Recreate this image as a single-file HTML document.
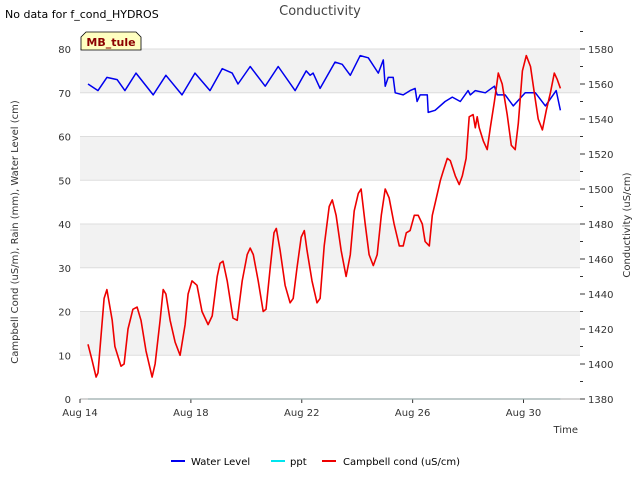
<!DOCTYPE html>
<html><head><meta charset="utf-8"><style>
body{margin:0;background:#fff;font-family:"Liberation Sans",sans-serif}
svg text{font-family:"DejaVu Sans","Liberation Sans",sans-serif}
</style></head><body>
<svg id="c" width="640" height="480" xmlns="http://www.w3.org/2000/svg">
<text x="5" y="18" font-size="11" fill="#000">No data for f_cond_HYDROS</text>
<text x="320" y="15" font-size="13" fill="#444" text-anchor="middle">Conductivity</text>
<g id="plot"></g>
<g>
<path d="M81,50 L81,37 L86,32 L136,32 L141,37 L141,50 Z" fill="#ffffc0" stroke="#000" stroke-width="0.8"/>
<text x="111" y="46" font-size="11" font-weight="bold" fill="#8b0000" text-anchor="middle">MB_tule</text>
</g>
<text x="18" y="232" font-size="10" fill="#333" text-anchor="middle" transform="rotate(-90 18 232)">Campbell Cond (uS/m), Rain (mm), Water Level (cm)</text>
<text x="630" y="225" font-size="10" fill="#333" text-anchor="middle" transform="rotate(-90 630 225)">Conductivity (uS/cm)</text>
<text x="578" y="433" font-size="10" fill="#333" text-anchor="end">Time</text>
<g font-size="10" fill="#000">
<g><line x1="171" y1="461" x2="185" y2="461" stroke="#0000ee" stroke-width="2"/><text x="191" y="465">Water Level</text></g>
<g><line x1="271" y1="461" x2="285" y2="461" stroke="#00e5ee" stroke-width="2"/><text x="290" y="465">ppt</text></g>
<g><line x1="322" y1="461" x2="336" y2="461" stroke="#ee0000" stroke-width="2"/><text x="343" y="465">Campbell cond (uS/cm)</text></g>
</g>
</svg>
<script>
const xTickLabels=["Aug 14","Aug 18","Aug 22","Aug 26","Aug 30"];
const xTickDays=[0,4,8,12,16];
const yLeftTicks=[0,10,20,30,40,50,60,70,80];
const yRightTicks=[1380,1400,1420,1440,1460,1480,1500,1520,1540,1560,1580];
const waterDays=[0.29,0.65,0.97,1.34,1.62,2.02,2.64,3.1,3.68,4.15,4.69,5.13,5.49,5.7,6.14,6.68,7.15,7.76,8.16,8.3,8.41,8.66,9.2,9.46,9.75,10.11,10.4,10.76,10.94,11.01,11.12,11.3,11.37,11.66,11.91,12.09,12.16,12.27,12.53,12.56,12.81,13.17,13.43,13.72,14.0,14.08,14.26,14.62,14.95,15.05,15.34,15.63,16.06,16.43,16.79,17.18,17.33];
const waterVals=[72,70.5,73.5,73,70.5,74.5,69.5,74,69.5,74.5,70.5,75.5,74.5,72,76,71.5,76,70.5,75,74,74.5,71,77,76.5,74,78.5,78,74.5,77.5,71.5,73.5,73.5,70,69.5,70.5,71,68,69.5,69.5,65.5,66,68,69,68,70.5,69.5,70.5,70,71.5,69.5,69.5,67,70,70,67,70.5,66];
const condDays=[0.29,0.43,0.58,0.65,0.87,0.97,1.16,1.26,1.48,1.59,1.73,1.91,2.06,2.2,2.38,2.6,2.71,2.89,3.0,3.1,3.25,3.43,3.61,3.79,3.9,4.04,4.22,4.4,4.62,4.77,4.95,5.05,5.16,5.31,5.52,5.67,5.85,6.03,6.14,6.25,6.43,6.61,6.71,6.86,7.0,7.08,7.22,7.4,7.58,7.69,7.83,7.98,8.09,8.19,8.37,8.55,8.66,8.81,8.99,9.1,9.24,9.42,9.6,9.75,9.89,10.04,10.14,10.29,10.43,10.58,10.72,10.87,11.01,11.15,11.33,11.52,11.66,11.77,11.91,12.06,12.2,12.35,12.45,12.6,12.71,12.82,13.0,13.1,13.25,13.36,13.54,13.68,13.79,13.93,14.04,14.18,14.26,14.33,14.4,14.55,14.69,14.8,14.95,15.09,15.23,15.41,15.56,15.7,15.81,15.96,16.1,16.25,16.39,16.53,16.68,16.82,16.97,17.11,17.22,17.33];
const condVals=[12.5,9,5,6,23,25,18,12,7.5,8,16,20.5,21,18,11,5,8,18,25,24,18,13,10,17,24,27,26,20,17,19,28,31,31.5,27,18.5,18,27,33,34.5,33,27,20,20.5,30,38,39,34,26,22,23,30,37,38.5,34,27,22,23,35,44,45.5,42,34,28,33,43,47,48,40,33,30.5,33,42,48,46,40,35,35,38,38.5,42,42,40,36,35,42,45,50,52,55,54.5,51,49,51,55,64.5,65,62,64.5,62,59,57,62,68,74.5,72,65,58,57,63,75,78.5,76,70,64,61.5,66,70,74.5,73,71];
const pptDays=[0.29,17.33];
const pptVals=[0,0];

const NS="http://www.w3.org/2000/svg";
const L=80,R=580,T=49,B=399;
const xS=d=>L+d*27.72;
const yL=v=>B-(v/80)*(B-T);
const yR=v=>B-((v-1380)/200)*(B-T);
const g=document.getElementById('plot');
function mk(t,a,p){const e=document.createElementNS(NS,t);for(const k in a)e.setAttribute(k,a[k]);(p||g).appendChild(e);return e;}
// bands
for(let i=1;i<8;i+=2){const r=mk('rect',{x:L,y:yL((i+1)*10),width:R-L,height:yL(i*10)-yL((i+1)*10),fill:'#f2f2f2'});

}
yLeftTicks.forEach(v=>{
const l=mk('line',{x1:L,x2:R,y1:yL(v),y2:yL(v),stroke:'#dddddd','stroke-width':1});


const t=mk('text',{x:L-9,y:yL(v)+4,'font-size':10,fill:'#333','text-anchor':'end'});t.textContent=v;


});
yRightTicks.forEach(v=>{
mk('line',{x1:R,x2:R+5,y1:yR(v),y2:yR(v),stroke:'#333'});
mk('line',{x1:R,x2:R+3,y1:yR(v+10),y2:yR(v+10),stroke:'#333'});
const t=mk('text',{x:R+8,y:yR(v)+4,'font-size':10,fill:'#333'});t.textContent=v;


});
mk('line',{x1:L,x2:R,y1:B,y2:B,stroke:'#aaa'});
xTickDays.forEach((d,i)=>{
mk('line',{x1:xS(d),x2:xS(d),y1:B,y2:B+4,stroke:'#333'});
const t=mk('text',{x:xS(d),y:B+17,'font-size':10,fill:'#333','text-anchor':'middle'});t.textContent=xTickLabels[i];


});
function line(ds,vs,col,name,w){
const p=mk('polyline',{points:ds.map((d,i)=>xS(d).toFixed(1)+','+yL(vs[i]).toFixed(1)).join(' '),fill:'none',stroke:col,'stroke-width':w,'stroke-linejoin':'round'});


}
line(pptDays,pptVals,'#9aa','ppt-line',1.2);
line(waterDays,waterVals,'#0000ee','water-level-line',1.5);
line(condDays,condVals,'#ee0000','campbell-cond-line',1.6);
</script>
</body></html>
